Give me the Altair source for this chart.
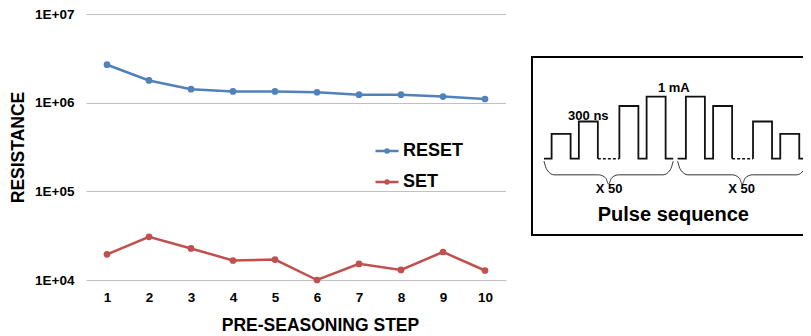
import altair as alt
import pandas as pd

# ---------------- main chart data ----------------
steps = [1, 2, 3, 4, 5, 6, 7, 8, 9, 10]
reset_res = [2.68e6, 1.78e6, 1.42e6, 1.34e6, 1.34e6, 1.31e6, 1.23e6, 1.23e6, 1.17e6, 1.10e6]
set_res = [1.95e4, 3.07e4, 2.27e4, 1.66e4, 1.70e4, 1.00e4, 1.52e4, 1.30e4, 2.07e4, 1.28e4]
series_names = ["RESET", "SET"]
series_colors = ["#4F81BD", "#C0504D"]
y_ticks = [1e4, 1e5, 1e6, 1e7]

# ---------------- inset (pulse sequence) data ----------------
pulse_start_ns = [120, 550, 1190, 1620, 2240, 2670, 3300, 3730]
pulse_amp_ma = [0.4, 0.6, 0.85, 1.0, 1.0, 0.85, 0.6, 0.4]
pulse_width_ns = 300
solid_span_start = [0, 1190, 2110, 3300]
solid_span_end = [850, 2040, 2970, 4150]
dashed_span_start = [850, 2970]
dashed_span_end = [1190, 3300]
brace_start = [0, 2110]
brace_end = [2040, 4150]
brace_frac = [0, 0.023, 0.078, 0.423, 0.477, 0.5, 0.523, 0.577, 0.922, 0.977, 1.0]
brace_level = [-0.04, -0.18, -0.26, -0.26, -0.31, -0.41, -0.31, -0.26, -0.26, -0.18, -0.04]
box_left_t = -190
box_right_t = 4600
box_top_ma = 1.64
box_bottom_ma = -1.23
inset_texts = ["300 ns", "1 mA", "X 50", "X 50", "Pulse sequence"]
inset_text_t = [700, 2050, 1029, 3121, 2042]
inset_text_ma = [0.624, 1.081, -0.558, -0.558, -1.0]
inset_text_size = [13, 13, 13, 13, 20]

FONT = "Liberation Sans"

# scale geometry (plot-area pixels)
W, H = 717, 266
MAIN_X_RANGE = [0, 420]
MAIN_Y_RANGE = [266, 0]
INSET_X_RANGE = [420, 717]
INSET_Y_RANGE = [266, 0]
t_domain = [-600, 4089]
ma_domain = [-1.956, 2.334]

# ---------------- main chart ----------------
rows = []
for s, v in zip(steps, reset_res):
    rows.append({"step": s, "resistance": v, "series": "RESET"})
for s, v in zip(steps, set_res):
    rows.append({"step": s, "resistance": v, "series": "SET"})
df = pd.DataFrame(rows)

legend_path = ("M-1,0L1,0M-0.13,0A0.13,0.13 0 1,1 0.13,0A0.13,0.13 0 1,1 -0.13,0Z")

x_enc = alt.X("step:Q",
              scale=alt.Scale(domain=[0.5, 10.5], nice=False, zero=False, range=MAIN_X_RANGE),
              axis=alt.Axis(values=steps, format="d", grid=False, domain=False, ticks=False,
                            labelFontSize=13.5, labelFontWeight="bold", labelColor="#000000",
                            labelFont=FONT, labelPadding=10,
                            title="PRE-SEASONING STEP", titleFontSize=17.5, titleFontWeight="bold",
                            titleFont=FONT, titleColor="#000000", titlePadding=13,
                            titleX=234, titleAlign="center"))
y_enc = alt.Y("resistance:Q",
              scale=alt.Scale(type="log", domain=[1e4, 1e7], nice=False, range=MAIN_Y_RANGE),
              axis=alt.Axis(values=y_ticks, grid=True, gridColor="#C0C0C0", gridWidth=1,
                            domain=False, ticks=False,
                            labelExpr="'1E+0' + round(log(datum.value) / LN10)",
                            labelFontSize=13.5, labelFontWeight="bold", labelColor="#000000",
                            labelFont=FONT, labelPadding=12,
                            title="RESISTANCE", titleFontSize=17.5, titleFontWeight="bold",
                            titleFont=FONT, titleColor="#000000", titlePadding=7))
color_scale = alt.Scale(domain=series_names, range=series_colors)

main = alt.Chart(df).mark_line(
    strokeWidth=2.5,
    point=alt.OverlayMarkDef(filled=True, size=45, opacity=1),
).encode(
    x=x_enc, y=y_enc,
    color=alt.Color("series:N", scale=color_scale,
                    legend=alt.Legend(orient="none", legendX=288, legendY=124, title=None,
                                      symbolType=legend_path, symbolSize=529,
                                      symbolStrokeWidth=2.5, symbolOpacity=1,
                                      labelFontSize=18, labelFontWeight="bold", labelFont=FONT,
                                      labelColor="#000000", labelOffset=3, rowPadding=9)),
)

# ---------------- inset chart ----------------
wave_rows = []
for k, (s, e) in enumerate(zip(solid_span_start, solid_span_end)):
    i = 0
    wave_rows.append({"t": s, "ma": 0, "seg": k, "i": i}); i += 1
    for p, a in zip(pulse_start_ns, pulse_amp_ma):
        if s <= p < e:
            for (tt, aa) in [(p, 0), (p, a), (p + pulse_width_ns, a), (p + pulse_width_ns, 0)]:
                wave_rows.append({"t": tt, "ma": aa, "seg": k, "i": i}); i += 1
    wave_rows.append({"t": e, "ma": 0, "seg": k, "i": i})
wave = pd.DataFrame(wave_rows)

dash_rows = []
for k, (s, e) in enumerate(zip(dashed_span_start, dashed_span_end)):
    dash_rows.append({"t": s, "ma": 0, "seg": k})
    dash_rows.append({"t": e, "ma": 0, "seg": k})
dash = pd.DataFrame(dash_rows)

brace_rows = []
for k, (s, e) in enumerate(zip(brace_start, brace_end)):
    for j, (f, lv) in enumerate(zip(brace_frac, brace_level)):
        brace_rows.append({"t": s + f * (e - s), "ma": lv, "seg": k, "i": j})
brace = pd.DataFrame(brace_rows)

bg = pd.DataFrame({"t": [t_domain[0]], "t2": [box_right_t], "ma": [ma_domain[0]], "ma2": [ma_domain[1]]})
box_h = pd.DataFrame({"t": [box_left_t, box_left_t], "t2": [box_right_t, box_right_t],
                      "ma": [box_top_ma, box_bottom_ma]})
box_v = pd.DataFrame({"t": [box_left_t], "ma": [box_top_ma], "ma2": [box_bottom_ma]})
labels = pd.DataFrame({"txt": inset_texts, "t": inset_text_t, "ma": inset_text_ma,
                       "size": inset_text_size})

tx = alt.X("t:Q", scale=alt.Scale(domain=t_domain, nice=False, zero=False, range=INSET_X_RANGE),
           axis=None)
ty = alt.Y("ma:Q", scale=alt.Scale(domain=ma_domain, nice=False, zero=False, range=INSET_Y_RANGE),
           axis=None)

bg_layer = alt.Chart(bg).mark_rect(fill="#FFFFFF", strokeWidth=0, opacity=1).encode(
    x=tx, x2="t2:Q", y=ty, y2="ma2:Q")
box_h_layer = alt.Chart(box_h).mark_rule(color="#000000", strokeWidth=2).encode(
    x=tx, x2="t2:Q", y=ty)
box_v_layer = alt.Chart(box_v).mark_rule(color="#000000", strokeWidth=2, strokeCap="square").encode(
    x=tx, y=ty, y2="ma2:Q")
wave_layer = alt.Chart(wave).mark_line(color="#111111", strokeWidth=1.8).encode(
    x=tx, y=ty, detail="seg:N", order="i:Q")
dash_layer = alt.Chart(dash).mark_line(color="#111111", strokeWidth=1.5, strokeDash=[3, 2]).encode(
    x=tx, y=ty, detail="seg:N")
brace_layer = alt.Chart(brace).mark_line(color="#333333", strokeWidth=1, interpolate="monotone").encode(
    x=tx, y=ty, detail="seg:N", order="i:Q")
text_layer = alt.Chart(labels).mark_text(font=FONT, fontWeight="bold", color="#000000",
                                         baseline="alphabetic", align="center").encode(
    x=tx, y=ty, text="txt:N", size=alt.Size("size:Q", scale=None, legend=None))

inset = alt.layer(bg_layer, box_h_layer, box_v_layer, wave_layer, dash_layer, brace_layer, text_layer)

chart = alt.layer(main, inset).resolve_scale(
    x="independent", y="independent"
).properties(
    width=W, height=H,
    autosize=alt.AutoSizeParams(type="none"),
    padding={"left": 78, "top": 6, "right": 0, "bottom": 56}
).configure_view(stroke=None)

chart.save("out.html", embed_options={"renderer": "svg", "actions": False})
